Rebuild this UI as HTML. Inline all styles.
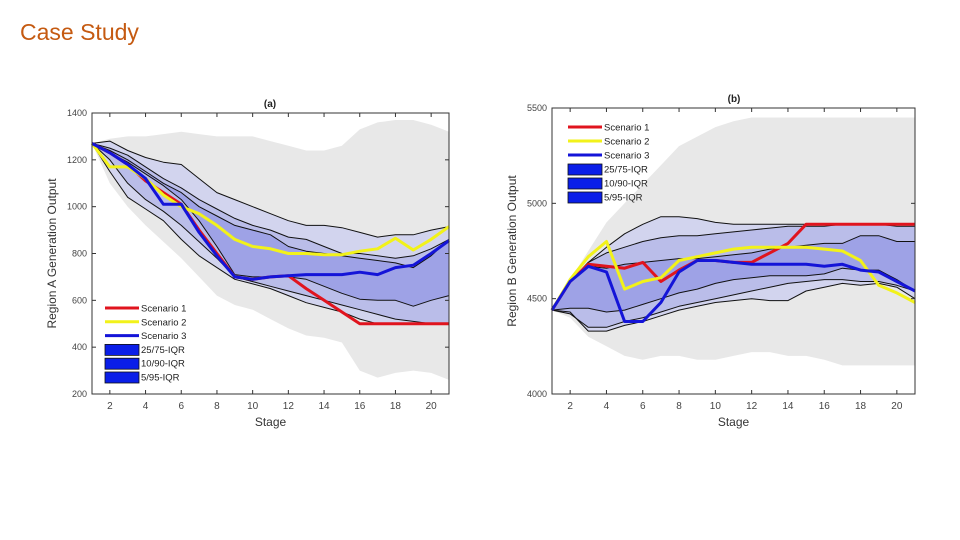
<!DOCTYPE html>
<html><head><meta charset="utf-8"><style>
body{margin:0;background:#fff;width:960px;height:540px;overflow:hidden;font-family:"Liberation Sans",sans-serif}
#title{position:absolute;left:20px;top:19px;font-size:23px;color:#c55a11;font-family:"Liberation Sans",sans-serif}
svg{position:absolute;left:0;top:0}
</style></head><body>
<div id="title">Case Study</div>
<svg id="svg" width="960" height="540"></svg>
<script>
const stages=[1,2,3,4,5,6,7,8,9,10,11,12,13,14,15,16,17,18,19,20,21];
// Chart A data
const aRed=[1270,1230,1180,1110,1060,1010,900,800,700,690,700,705,650,600,550,500,500,500,500,500,500];
const aYellow=[1270,1170,1170,1120,1050,1000,970,920,860,830,820,800,800,795,795,810,820,865,815,860,915];
const aBlue=[1270,1230,1180,1120,1010,1010,890,790,700,690,700,705,710,710,710,720,710,740,750,800,855];
const aP95=[1270,1280,1240,1210,1190,1180,1120,1060,1030,1000,970,940,920,920,910,890,870,880,880,900,915];
const aP5=[1270,1150,1040,990,940,860,790,740,690,670,650,620,590,570,550,520,500,500,500,500,500];
const aP90=[1270,1250,1220,1170,1120,1080,1030,990,950,920,900,870,860,830,800,800,790,780,790,820,860];
const aP10=[1270,1200,1100,1030,980,920,850,780,700,680,660,640,620,600,580,560,540,520,510,500,500];
const aP75=[1270,1240,1200,1150,1100,1060,1000,960,920,900,880,830,810,800,790,780,770,760,740,790,860];
const aP25=[1270,1230,1190,1140,1090,1030,940,830,710,700,700,700,690,660,630,605,600,600,575,600,620];
const aGrayHi=[1270,1290,1300,1300,1310,1320,1310,1300,1300,1300,1280,1260,1240,1240,1260,1330,1360,1370,1370,1350,1320];
const aGrayLo=[1270,1100,1000,920,850,780,700,620,580,560,520,480,450,440,420,300,270,290,300,290,260];
const aTicks=[200,400,600,800,1000,1200,1400];
// Chart B data
const bRed=[4440,4590,4680,4670,4660,4690,4590,4650,4700,4700,4690,4690,4740,4790,4890,4890,4890,4890,4890,4890,4890];
const bYellow=[4440,4600,4720,4800,4550,4590,4610,4700,4720,4740,4760,4770,4770,4770,4770,4760,4750,4700,4570,4530,4480];
const bBlue=[4440,4590,4670,4640,4380,4380,4480,4640,4700,4700,4690,4680,4680,4680,4680,4670,4680,4650,4640,4590,4540];
const bP95=[4440,4590,4690,4770,4840,4890,4930,4930,4920,4900,4890,4890,4890,4890,4890,4890,4890,4890,4890,4890,4890];
const bP5=[4440,4430,4330,4330,4360,4380,4410,4440,4460,4480,4490,4500,4490,4490,4540,4560,4580,4570,4580,4560,4500];
const bP90=[4440,4590,4690,4740,4770,4800,4820,4830,4830,4840,4850,4860,4870,4880,4880,4880,4890,4890,4890,4880,4880];
const bP10=[4440,4420,4350,4350,4380,4400,4430,4460,4480,4500,4520,4540,4560,4580,4590,4600,4600,4590,4590,4570,4540];
const bP75=[4440,4590,4670,4660,4680,4690,4700,4710,4710,4720,4730,4740,4760,4770,4780,4790,4790,4830,4830,4800,4800];
const bP25=[4440,4450,4450,4430,4440,4470,4500,4530,4550,4580,4600,4610,4620,4620,4620,4630,4660,4650,4650,4600,4540];
const bGrayHi=[4440,4600,4750,4900,5000,5100,5200,5300,5350,5400,5430,5450,5450,5450,5450,5450,5450,5450,5450,5450,5450];
const bGrayLo=[4440,4400,4300,4250,4200,4180,4200,4200,4180,4180,4200,4220,4220,4200,4200,4180,4150,4150,4150,4150,4150];
const bTicks=[4000,4500,5000,5500];
const xTicks=[2,4,6,8,10,12,14,16,18,20];

const svg=document.getElementById('svg');
const NS='http://www.w3.org/2000/svg';
function mk(tag,attrs,parent){const e=document.createElementNS(NS,tag);for(const k in attrs)e.setAttribute(k,attrs[k]);(parent||svg).appendChild(e);return e;}

function chart(cfg){
  const g=mk('g',{});
  
  
  const X=s=>cfg.x0+(s-1)/20*(cfg.x1-cfg.x0);
  const Y=v=>cfg.y1-(v-cfg.ymin)/(cfg.ymax-cfg.ymin)*(cfg.y1-cfg.y0);
  const pts=a=>a.map((v,i)=>X(stages[i]).toFixed(1)+','+Y(v).toFixed(1));
  const band=(hi,lo,fill,name)=>{const p=mk('polygon',{points:pts(hi).concat(pts(lo).reverse()).join(' '),fill:fill},g);
    };
  const line=(a,col,w,name)=>{const p=mk('polyline',{points:pts(a).join(' '),fill:'none',stroke:col,'stroke-width':w,'stroke-linejoin':'round'},g);
    };
  band(cfg.d.gh,cfg.d.gl,'#e8e8e8','scenario-envelope');
  band(cfg.d.p95,cfg.d.p5,'#d2d4ee','band-5-95');
  band(cfg.d.p90,cfg.d.p10,'#babde9','band-10-90');
  band(cfg.d.p75,cfg.d.p25,'#9ea2e6','band-25-75');
  ['p95','p5','p90','p10','p75','p25'].forEach(k=>line(cfg.d[k],'#111',1,'percentile-line-'+k));
  line(cfg.d.red,'#e0141e',3,'scenario-1-line');
  line(cfg.d.yellow,'#f2f21a',3,'scenario-2-line');
  line(cfg.d.blue,'#1414d8',3,'scenario-3-line');
  const f=mk('rect',{x:cfg.x0,y:cfg.y0,width:cfg.x1-cfg.x0,height:cfg.y1-cfg.y0,fill:'none',stroke:'#333','stroke-width':1},g);
  
  cfg.yt.forEach(v=>{
    mk('line',{x1:cfg.x0,x2:cfg.x0+4,y1:Y(v),y2:Y(v),stroke:'#333'},g);
    mk('line',{x1:cfg.x1,x2:cfg.x1-4,y1:Y(v),y2:Y(v),stroke:'#333'},g);
    const t=mk('text',{x:cfg.x0-5,y:Y(v)+3,'text-anchor':'end','font-size':9,fill:'#444'},g);t.textContent=v;
    
  });
  xTicks.forEach(s=>{
    mk('line',{x1:X(s),x2:X(s),y1:cfg.y1,y2:cfg.y1-4,stroke:'#333'},g);
    mk('line',{x1:X(s),x2:X(s),y1:cfg.y0,y2:cfg.y0+4,stroke:'#333'},g);
    const t=mk('text',{x:X(s),y:cfg.y1+15,'text-anchor':'middle','font-size':10,fill:'#444'},g);t.textContent=s;
    
  });
  let t=mk('text',{x:(cfg.x0+cfg.x1)/2,y:cfg.y1+32,'text-anchor':'middle','font-size':12,fill:'#333'},g);t.textContent='Stage';
  
  const cy=(cfg.y0+cfg.y1)/2;
  t=mk('text',{x:cfg.x0-36,y:cy,'text-anchor':'middle','font-size':12,fill:'#333',transform:`rotate(-90 ${cfg.x0-36} ${cy})`},g);t.textContent=cfg.ytitle;
  
  t=mk('text',{x:cfg.tx,y:cfg.y0-6,'text-anchor':'middle','font-size':10,'font-weight':'bold',fill:'#222'},g);t.textContent=cfg.title;
  
  const L=cfg.leg;const items=[['Scenario 1','#e0141e','l'],['Scenario 2','#f2f21a','l'],['Scenario 3','#1414d8','l'],['25/75-IQR','#0a1ee8','b'],['10/90-IQR','#0a1ee8','b'],['5/95-IQR','#0a1ee8','b']];
  items.forEach((it,i)=>{
    const y=L.y+i*L.dy;
    const lg=mk('g',{},g);
    
    if(it[2]=='l')mk('line',{x1:L.x,x2:L.x+34,y1:y,y2:y,stroke:it[1],'stroke-width':3},lg);
    else mk('rect',{x:L.x,y:y-5,width:34,height:11,fill:it[1],stroke:'#111','stroke-width':0.8},lg);
    const tt=mk('text',{x:L.x+36,y:y+3.5,'font-size':9.5,fill:'#222'},lg);tt.textContent=it[0];
  });
}
chart({name:'chart-a',x0:92,x1:449,y0:113,y1:394,ymin:200,ymax:1400,yt:aTicks,ytitle:'Region A Generation Output',title:'(a)',tx:270,
  leg:{x:105,y:308,dy:13.8},
  d:{red:aRed,yellow:aYellow,blue:aBlue,p95:aP95,p5:aP5,p90:aP90,p10:aP10,p75:aP75,p25:aP25,gh:aGrayHi,gl:aGrayLo}});
chart({name:'chart-b',x0:552,x1:915,y0:108,y1:394,ymin:4000,ymax:5500,yt:bTicks,ytitle:'Region B Generation Output',title:'(b)',tx:734,
  leg:{x:568,y:127,dy:14},
  d:{red:bRed,yellow:bYellow,blue:bBlue,p95:bP95,p5:bP5,p90:bP90,p10:bP10,p75:bP75,p25:bP25,gh:bGrayHi,gl:bGrayLo}});
</script>
</body></html>
